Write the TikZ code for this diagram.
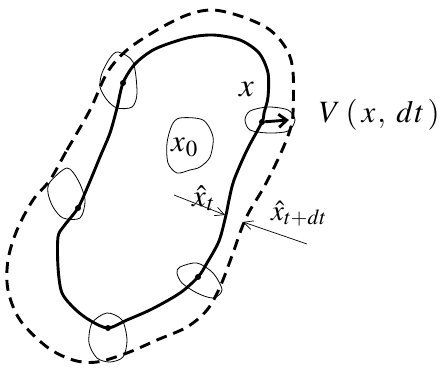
\documentclass[tikz,border=0pt]{standalone}
\usepackage{mathptmx}
\usetikzlibrary{arrows.meta}
\begin{document}
\begin{tikzpicture}[x=1pt,y=-1pt,every node/.style={font=\fontsize{31}{33}\selectfont,inner sep=0pt},
front/.style={line width=2.9pt,line join=round},
nextfront/.style={line width=2.9pt,dash pattern=on 11pt off 7pt},
nbhd/.style={line width=0.8pt},
dot/.style={circle,fill=black,inner sep=0pt,minimum size=6pt},
pointer/.style={-{Straight Barb[length=9pt,width=9pt]},line width=0.7pt},
velo/.style={-{Straight Barb[length=8pt,width=13pt]},line width=2.9pt}]
\useasboundingbox (0,0) rectangle (446,371);
% outer front at t+dt
\draw[nextfront] plot[smooth cycle,tension=0.55] coordinates {(50,180) (67,150) (90,110) (107,73) (127,50) (157,30) (187,15) (213,10) (243,17) (270,30) (287,50) (293,72) (293,113) (290,130) (280,155) (264,187) (249,212) (241,230) (233,253) (220,287) (207,310) (187,327) (157,340) (127,353) (97,362) (73,360) (47,347) (20,320) (8,290) (8,260) (17,230) (33,200)};
% front at t
\draw[front] plot[smooth cycle,tension=0.5] coordinates {(123,83) (135,64) (155,49) (187,38) (213,35) (240,40) (259,53) (268,73) (268,97) (264,113) (262,122) (247,150) (234,180) (229,200) (226,215) (219,241) (207,263) (198,277) (180,293) (152,309) (127,320) (108,328) (91,321) (76,310) (62,293) (58,267) (58,237) (64,226) (78,208) (88,186) (100,157) (110,133) (117,108)};
% small neighbourhoods
\draw[nbhd] plot[smooth cycle] coordinates {(118,52) (133,62) (137,93) (132,107) (117,108) (107,100) (100,87) (102,73) (110,58)};
\draw[nbhd] plot[smooth cycle] coordinates {(67,168) (78,180) (85,200) (80,218) (63,218) (53,207) (48,193) (50,182)};
\draw[nbhd] plot[smooth cycle] coordinates {(268,107) (288,110) (295,120) (288,131) (268,133) (250,130) (245,120) (250,111)};
\draw[nbhd] plot[smooth cycle] coordinates {(180,267) (197,263) (213,273) (222,290) (213,298) (197,293) (182,283) (177,273)};
\draw[nbhd] plot[smooth cycle] coordinates {(107,313) (122,320) (127,340) (123,357) (110,362) (97,358) (89,343) (92,323)};
\draw[nbhd] plot[smooth cycle] coordinates {(180,118) (203,120) (213,137) (210,157) (200,167) (190,170) (177,173) (168,163) (167,143) (172,125)};
% points on the front
\node[dot] (pA) at (123,83) {};
\node[dot] (pB) at (78,208) {};
\node[dot] (pC) at (108,328) {};
\node[dot] (pD) at (198,277) {};
\node[dot] (pR) at (262,122) {};
% labels
\node[anchor=base west,font=\fontsize{33}{35}\selectfont] (xlbl) at (239,97) {$x$};
\node[anchor=base west] (vlbl) at (319,123) {$V\hspace{5pt}(\hspace{4pt}x\hspace{2pt},\hspace{7pt}d\hspace{1pt}t\hspace{3pt})$};
\node[anchor=base west] (xzero) at (171,152) {$x_{\hspace{1pt}0}$};
\node[anchor=base west] (xt) at (192,206) {$\hat{x}_{\hspace{1pt}t}$};
\node[anchor=base west,font=\fontsize{29}{31}\selectfont] (xtdt) at (271,220) {$\hat{x}_{t+dt}$};
% arrows
\coordinate (ta) at (174,195);
\coordinate (tb) at (225,215);
\coordinate (sa) at (307,244);
\coordinate (sb) at (243,222);
\coordinate (vtip) at (289,120);
\draw[pointer] (ta) -- (tb);
\draw[pointer] (sa) -- (sb);
\draw[velo] (pR) -- (vtip);
\end{tikzpicture}
\end{document}
